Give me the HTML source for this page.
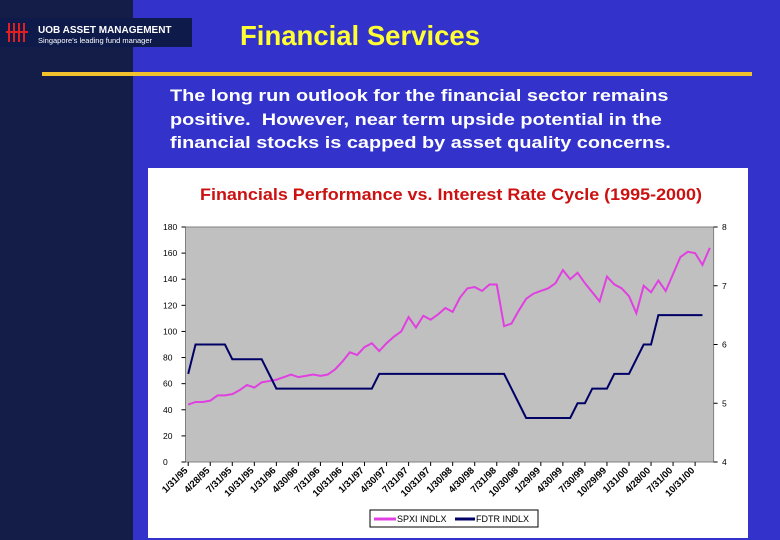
<!DOCTYPE html>
<html><head><meta charset="utf-8">
<style>
body{margin:0;width:780px;height:540px;overflow:hidden;background:#3333cc;font-family:"Liberation Sans",sans-serif;position:relative}
.strip{position:absolute;left:0;top:0;width:133px;height:540px;background:#141c48}
.logo{position:absolute;left:0;top:18px;width:192px;height:29px;background:#0e1a4a}
.hl{position:absolute;left:42px;top:72px;width:710px;height:4px;background:#f2c12e}
.title{position:absolute;left:240px;top:20px;color:#ffff33;font-weight:bold;font-size:27.5px}
.body{position:absolute;left:170px;top:84px;color:#fff;font-weight:bold;font-size:17px;line-height:23.5px;width:600px;white-space:nowrap;transform:scaleX(1.17);transform-origin:0 0}
svg{position:absolute;left:0;top:0}
</style></head><body>
<div class="strip"></div>
<div class="logo">
<svg width="192" height="29">
<g stroke="#e02020" stroke-width="2"><line x1="6" y1="14" x2="28" y2="14"/><line x1="9" y1="5" x2="9" y2="24"/><line x1="14" y1="5" x2="14" y2="24"/><line x1="19" y1="5" x2="19" y2="24"/><line x1="24" y1="5" x2="24" y2="24"/></g>
<text x="38" y="15" fill="#fff" font-size="10" font-weight="bold" font-family="Liberation Sans">UOB ASSET MANAGEMENT</text>
<text x="38" y="25" fill="#fff" font-size="7.5" font-family="Liberation Sans">Singapore's leading fund manager</text>
</svg></div>
<div class="title">Financial Services</div>
<div class="hl"></div>
<div class="body">The long run outlook for the financial sector remains<br>positive.&nbsp; However, near term upside potential in the<br>financial stocks is capped by asset quality concerns.</div>
<svg id="chart" width="780" height="540"></svg>
<script>
const labels=["1/31/95","4/28/95","7/31/95","10/31/95","1/31/96","4/30/96","7/31/96","10/31/96","1/31/97","4/30/97","7/31/97","10/31/97","1/30/98","4/30/98","7/31/98","10/30/98","1/29/99","4/30/99","7/30/99","10/29/99","1/31/00","4/28/00","7/31/00","10/31/00"];
const spx=[44,46,46,47,51,51,52,55,59,57,61,62,63,65,67,65,66,67,66,67,71,77,84,82,88,91,85,91,96,100,111,103,112,109,113,118,115,126,133,134,131,136,136,104,106,116,125,129,131,133,137,147,140,145,137,130,123,142,136,133,127,114,135,130,139,131,144,157,161,160,151,164];
const rate=[5.5,6,6,6,6,6,5.75,5.75,5.75,5.75,5.75,5.5,5.25,5.25,5.25,5.25,5.25,5.25,5.25,5.25,5.25,5.25,5.25,5.25,5.25,5.25,5.5,5.5,5.5,5.5,5.5,5.5,5.5,5.5,5.5,5.5,5.5,5.5,5.5,5.5,5.5,5.5,5.5,5.5,5.25,5,4.75,4.75,4.75,4.75,4.75,4.75,4.75,5,5,5.25,5.25,5.25,5.5,5.5,5.5,5.75,6,6,6.5,6.5,6.5,6.5,6.5,6.5,6.5];
const leftTicks=[0,20,40,60,80,100,120,140,160,180];
const rightTicks=[4,5,6,7,8];
const NS="http://www.w3.org/2000/svg";
const svg=document.getElementById('chart');
const PL=185.5,PR=713.6,PT=227,PB=462,X0=188.2,X1=709.8,N=72;
const xs=i=>X0+(X1-X0)*i/(N-1);
const yl=v=>PB-(PB-PT)*v/180;
const yr=v=>PB-(PB-PT)*(v-4)/4;
function mk(t,a,p){const e=document.createElementNS(NS,t);for(const k in a)e.setAttribute(k,a[k]);(p||svg).appendChild(e);return e;}
let e;
e=mk('rect',{x:148,y:168,width:600,height:370,fill:'#fff'});


e=mk('text',{x:200,y:200,fill:'#cc1111','font-size':17,'font-weight':'bold',textLength:502,lengthAdjust:'spacingAndGlyphs'});e.textContent='Financials Performance vs. Interest Rate Cycle (1995-2000)';


e=mk('rect',{x:PL,y:PT,width:PR-PL,height:PB-PT,fill:'#c0c0c0',stroke:'#808080','stroke-width':1});


leftTicks.forEach(v=>{e=mk('text',{x:163,y:yl(v)+3,'font-size':8.5,fill:'#000'});e.textContent=v;


mk('line',{x1:PL-4,x2:PL,y1:yl(v),y2:yl(v),stroke:'#000'});});
rightTicks.forEach(v=>{e=mk('text',{x:722,y:yr(v)+3,'font-size':8.5,fill:'#000'});e.textContent=v;


mk('line',{x1:PR,x2:PR+4,y1:yr(v),y2:yr(v),stroke:'#000'});});
labels.forEach((l,k)=>{const x=xs(k*3);mk('line',{x1:x,x2:x,y1:PB,y2:PB+4,stroke:'#000'});
e=mk('text',{x:x,y:471,'font-size':9.5,'font-weight':'bold','text-anchor':'end',fill:'#000',transform:`rotate(-45 ${x} 471)`});e.textContent=l;

});
e=mk('polyline',{points:spx.map((v,i)=>xs(i)+','+yl(v)).join(' '),fill:'none',stroke:'#e040e0','stroke-width':2});


e=mk('polyline',{points:rate.map((v,i)=>xs(i)+','+yr(v)).join(' '),fill:'none',stroke:'#000066','stroke-width':2});


const lg=mk('g',{});


mk('rect',{x:370,y:510,width:168,height:17,fill:'#fff',stroke:'#000'},lg);
mk('line',{x1:374,x2:396,y1:519,y2:519,stroke:'#e040e0','stroke-width':3},lg);
e=mk('text',{x:397,y:522,'font-size':9,fill:'#000'},lg);e.textContent='SPXI INDLX';
mk('line',{x1:455,x2:475,y1:519,y2:519,stroke:'#000066','stroke-width':3},lg);
e=mk('text',{x:476,y:522,'font-size':9,fill:'#000'},lg);e.textContent='FDTR INDLX';
</script>
</body></html>
